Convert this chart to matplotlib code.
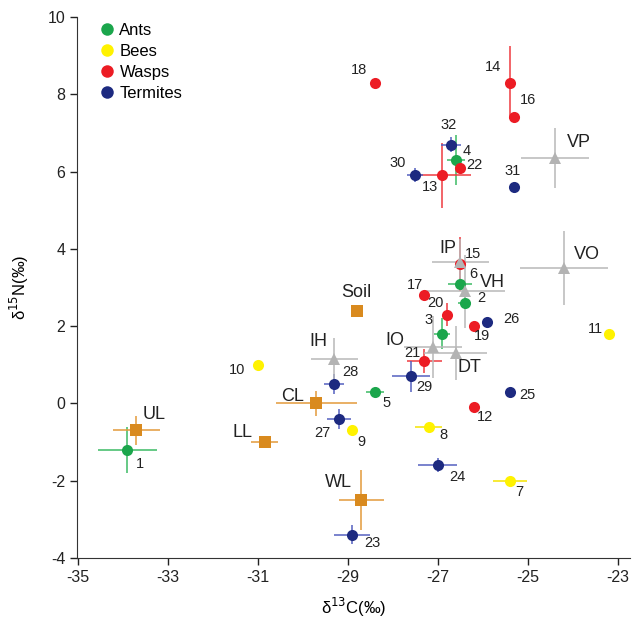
import matplotlib
matplotlib.use('Agg')
import matplotlib.pyplot as plt
from matplotlib.lines import Line2D

plt.rcParams['font.family'] = ['Liberation Sans', 'DejaVu Sans']
plt.rcParams['axes.unicode_minus'] = False

# insects
ants_id = ['1', '2', '3', '4', '5', '6']
ants_x = [-33.9, -26.4, -26.9, -26.6, -28.4, -26.5]
ants_y = [-1.2, 2.6, 1.8, 6.3, 0.3, 3.1]
ants_xerr = [0.65, 0.15, 0.18, 0.2, 0.2, 0.27]
ants_yerr = [0.6, 0.15, 0.4, 0.65, 0.1, 0.15]

bees_id = ['7', '8', '9', '10', '11']
bees_x = [-25.4, -27.2, -28.9, -31.0, -23.2]
bees_y = [-2.0, -0.6, -0.7, 1.0, 1.8]
bees_xerr = [0.38, 0.3, 0.1, 0, 0]
bees_yerr = [0.05, 0.05, 0.1, 0, 0]

wasps_id = ['12', '13', '14', '15', '16', '17', '18', '19', '20', '21', '22']
wasps_x = [-26.2, -26.9, -25.4, -26.5, -25.3, -27.3, -28.4, -26.2, -26.8, -27.3, -26.5]
wasps_y = [-0.1, 5.9, 8.3, 3.6, 7.4, 2.8, 8.3, 2.0, 2.3, 1.1, 6.1]
wasps_xerr = [0, 0.63, 0.05, 0.05, 0.05, 0, 0, 0, 0.05, 0.39, 0]
wasps_yerr = [0, 0.85, 0.95, 0.7, 0.1, 0, 0, 0, 0.3, 0.3, 0]

termites_id = ['23', '24', '25', '26', '27', '28', '29', '30', '31', '32']
termites_x = [-28.9, -27.0, -25.4, -25.9, -29.2, -29.3, -27.6, -27.5, -25.3, -26.7]
termites_y = [-3.4, -1.6, 0.3, 2.1, -0.4, 0.5, 0.7, 5.9, 5.6, 6.7]
termites_xerr = [0.4, 0.43, 0, 0, 0.27, 0.22, 0.42, 0.18, 0, 0.22]
termites_yerr = [0.25, 0.18, 0, 0, 0.25, 0.25, 0.4, 0.18, 0, 0.2]

# plant / soil sources
src_id = ['UL', 'LL', 'CL', 'Soil', 'WL']
src_x = [-33.7, -30.85, -29.7, -28.8, -28.7]
src_y = [-0.7, -1.0, 0.0, 2.4, -2.5]
src_xerr = [0.53, 0.3, 0.9, 0.1, 0.5]
src_yerr = [0.38, 0.13, 0.32, 0.1, 0.77]

# other groups (grey triangles)
grp_id = ['IH', 'IO', 'DT', 'IP', 'VH', 'VP', 'VO']
grp_x = [-29.3, -27.1, -26.6, -26.5, -26.4, -24.4, -24.2]
grp_y = [1.15, 1.45, 1.3, 3.65, 2.9, 6.35, 3.5]
grp_xerr = [0.52, 0.65, 0.7, 0.63, 0.9, 0.76, 0.98]
grp_yerr = [0.55, 0.8, 0.7, 0.6, 0.95, 0.77, 0.95]

# label offsets in pixels (right, down)
offs = {
    '1': (13, 14), '2': (17, -5), '3': (-14, -14), '4': (11, -9), '5': (12, 11),
    '6': (13, -10), '7': (10, 11), '8': (15, 8), '9': (9, 12), '10': (-21, 5),
    '11': (-13, -5), '12': (11, 10), '13': (-12, 12), '14': (-17, -16),
    '15': (13, -10), '16': (14, -17), '17': (-9, -10), '18': (-16, -13),
    '19': (8, 10), '20': (-11, -12), '21': (-12, -8), '22': (14, -3),
    '23': (20, 8), '24': (20, 12), '25': (18, 3), '26': (24, -3),
    '27': (-16, 14), '28': (16, -12), '29': (14, 11), '30': (-18, -12),
    '31': (-2, -16), '32': (-3, -20),
    'UL': (18, -16), 'LL': (-22, -10), 'CL': (-24, -7), 'Soil': (0, -18),
    'WL': (-23, -18), 'IH': (-16, -17), 'IO': (-38, -7), 'DT': (14, 14),
    'IP': (-12, -14), 'VH': (28, -9), 'VP': (24, -16), 'VO': (23, -14),
}

fig = plt.figure(figsize=(6.33, 6.25), dpi=100)
ax = fig.add_axes([0.1216, 0.1072, 0.8734, 0.8656])

groups = [
    (ants_id, ants_x, ants_y, ants_xerr, ants_yerr, '#1ba64c', '#3cba64', 'o', 8, 'Ants'),
    (bees_id, bees_x, bees_y, bees_xerr, bees_yerr, '#fff200', '#f5e400', 'o', 8, 'Bees'),
    (wasps_id, wasps_x, wasps_y, wasps_xerr, wasps_yerr, '#ec1c24', '#ef3a40', 'o', 8, 'Wasps'),
    (termites_id, termites_x, termites_y, termites_xerr, termites_yerr, '#1d2a80', '#5560c0', 'o', 8, 'Termites'),
    (src_id, src_x, src_y, src_xerr, src_yerr, '#d98a1e', '#e39a3a', 's', 9, None),
    (grp_id, grp_x, grp_y, grp_xerr, grp_yerr, '#b3b3b3', '#b8b8b8', '^', 9, None),
]

handles = []
for ids, xs, ys, xe, ye, col, ecol, mk, ms, name in groups:
    ax.errorbar(xs, ys, xerr=xe, yerr=ye, fmt=mk, color=col, ecolor=ecol,
                markersize=ms, elinewidth=1.1, capsize=0, markeredgewidth=0,
                zorder=3)
    if name:
        handles.append(Line2D([], [], marker='o', linestyle='none', color=col,
                              markersize=9, markeredgewidth=0, label=name))
    fs = 10.5 if mk == 'o' else 13
    for t, x, y in zip(ids, xs, ys):
        dx, dy = offs[t]
        ax.annotate(t, (x, y), xytext=(dx, -dy), textcoords='offset pixels',
                    ha='center', va='center', fontsize=fs, color='#222222', zorder=4)

ax.legend(handles=handles, loc='upper left', bbox_to_anchor=(0.015, 1.01),
          frameon=False, fontsize=12, handletextpad=0.15, handlelength=1.2,
          labelspacing=0.35, borderaxespad=0.3)

ax.set_xlim(-35.02, -22.73)
ax.set_ylim(-4, 10)
ax.set_xticks([-35, -33, -31, -29, -27, -25, -23])
ax.set_yticks([-4, -2, 0, 2, 4, 6, 8, 10])
ax.spines['top'].set_visible(False)
ax.spines['right'].set_visible(False)
ax.spines['left'].set_color('#333333')
ax.spines['bottom'].set_color('#333333')
ax.tick_params(direction='out', length=5, width=1, labelsize=11.5, colors='#222222')
ax.set_xlabel('δ$^{13}$C(‰)', fontsize=12, labelpad=8)
ax.set_ylabel('δ$^{15}$N(‰)', fontsize=12, labelpad=12)

fig.savefig('out.png', dpi=100)
